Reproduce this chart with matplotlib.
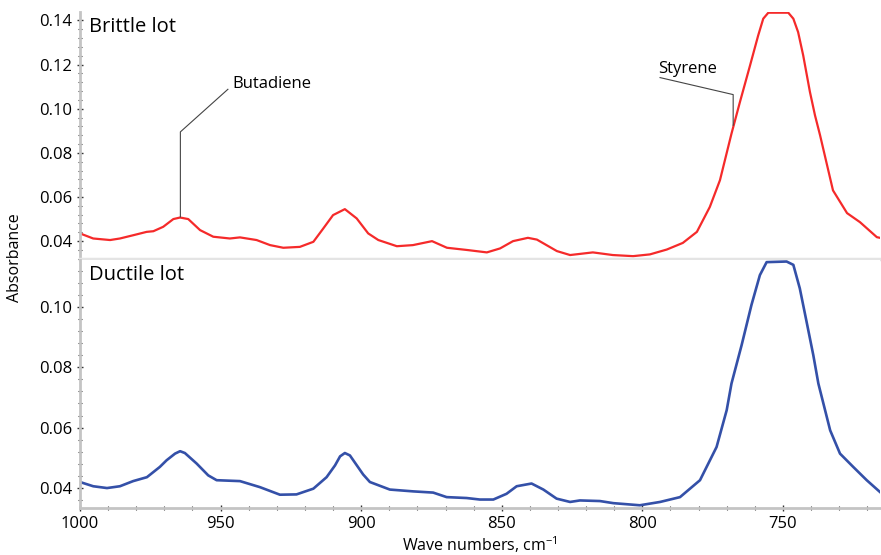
import matplotlib.pyplot as plt
from matplotlib.ticker import MultipleLocator, AutoMinorLocator

plt.rcParams['font.family'] = ['Open Sans', 'DejaVu Sans']
plt.rcParams['mathtext.fontset'] = 'custom'
plt.rcParams['mathtext.rm'] = 'Open Sans'

# brittle lot spectrum (wave number, absorbance)
brittle_wn = [1000, 995.3, 989.3, 985.8, 981, 976.3, 973.9, 970.4, 966.8, 964.4, 961.5, 957.3,
              952.6, 946.7, 943.1, 937.2, 932.4, 927.7, 921.8, 917, 913.5, 910, 905.8,
              901.6, 897.5, 893.9, 887.3, 881.6, 874.8, 869.5, 862.4, 855.3, 850.6, 846,
              840.7, 837.5, 830.4, 825.7, 817.6, 810.5, 803.3, 797.3, 791.3, 785.6, 780.6,
              776, 772.4, 768.3, 765.3, 761.7, 758.8, 757, 755.2, 748.1, 746.3, 744.6,
              742.8, 740.4, 738.6, 736.8, 732.2, 727.2, 722.6, 716.6, 715.5]
brittle_abs = [0.0435, 0.0412, 0.0405, 0.0412, 0.0427, 0.0442, 0.0445, 0.0465, 0.050, 0.0507,
               0.050, 0.045, 0.042, 0.0412, 0.0417, 0.0405, 0.0382, 0.037, 0.0374, 0.0397,
               0.0457, 0.0518, 0.0545, 0.0503, 0.0435, 0.0405, 0.0377, 0.0382, 0.040, 0.037,
               0.036, 0.0349, 0.0367, 0.040, 0.0415, 0.0407, 0.0355, 0.0337, 0.0349, 0.0337,
               0.0332, 0.034, 0.0362, 0.0392, 0.0442, 0.0555, 0.0676, 0.0887, 0.103, 0.1196,
               0.1332, 0.1408, 0.1435, 0.1435, 0.1408, 0.1347, 0.1242, 0.1076, 0.097, 0.088,
               0.063, 0.0527, 0.0486, 0.0418, 0.0415]

# ductile lot spectrum
ductile_wn = [1000, 995.3, 990.4, 985.8, 981.1, 976.2, 971.6, 969.2, 966.2, 964.4, 962.7,
              958.5, 954.4, 951.4, 943.1, 936, 928.9, 923, 917, 912.3, 909.3, 907.5, 905.8,
              904, 899.3, 896.9, 889.8, 881.5, 874.4, 869.6, 862.5, 857.8, 853, 848.3,
              844.7, 839.4, 835.2, 830.5, 825.7, 822.2, 815.1, 810.3, 800.9, 793.7, 786.6,
              779.5, 773.6, 770, 768.3, 764.7, 761.2, 758.2, 755.8, 748.7, 746.3, 744,
              741.6, 739.2, 737.4, 733.2, 729.7, 725, 720.2, 715.5]
ductile_abs = [0.042, 0.0406, 0.040, 0.0406, 0.0423, 0.0436, 0.047, 0.0492, 0.0514, 0.0522,
               0.0516, 0.0481, 0.0442, 0.0426, 0.0423, 0.0403, 0.0378, 0.0379, 0.0398, 0.0436,
               0.0475, 0.0505, 0.0516, 0.0508, 0.0445, 0.042, 0.0395, 0.0389, 0.0385, 0.037,
               0.0367, 0.0362, 0.0362, 0.0381, 0.0406, 0.0415, 0.0395, 0.0365, 0.0354, 0.0359,
               0.0357, 0.035, 0.0343, 0.0354, 0.037, 0.0426, 0.0536, 0.0658, 0.0746, 0.0873,
               0.1006, 0.1105, 0.1148, 0.115, 0.1139, 0.1061, 0.0951, 0.084, 0.0746, 0.0591,
               0.0514, 0.047, 0.0426, 0.0387]

# leader lines for the peak labels
butadiene_x = [947.4, 964.3, 964.3]
butadiene_y = [0.1088, 0.0895, 0.051]
styrene_x = [793.7, 767.7, 767.7]
styrene_y = [0.1141, 0.1064, 0.0925]

fig = plt.figure(figsize=(8.81, 5.55), dpi=100)
ax1 = fig.add_axes([0.0908, 0.5333, 0.908, 0.445])
ax2 = fig.add_axes([0.0908, 0.0847, 0.908, 0.4468], sharex=ax1)

ax1.plot(brittle_wn, brittle_abs, color='#f52a2a', lw=1.6, solid_joinstyle='round')
ax2.plot(ductile_wn, ductile_abs, color='#3450a8', lw=1.9, solid_joinstyle='round')

ax1.plot(butadiene_x, butadiene_y, color='#444444', lw=0.8)
ax1.plot(styrene_x, styrene_y, color='#444444', lw=0.8)
ax1.text(945.9, 0.1092, 'Butadiene', fontsize=12, va='baseline', ha='left')
ax1.text(794.3, 0.1162, 'Styrene', fontsize=12, va='baseline', ha='left')

ax1.text(0.011, 0.919, 'Brittle lot', transform=ax1.transAxes, fontsize=14.5, va='baseline')
ax2.text(0.011, 0.919, 'Ductile lot', transform=ax2.transAxes, fontsize=14.5, va='baseline')

ax1.set_xlim(1000, 715.5)
ax1.set_ylim(0.0319, 0.1438)
ax2.set_ylim(0.0334, 0.1155)

for ax in (ax1, ax2):
    ax.spines['top'].set_visible(False)
    ax.spines['right'].set_visible(False)
    ax.spines['left'].set_color('#c4c4c4')
    ax.spines['left'].set_linewidth(2)
    ax.spines['bottom'].set_color('#c4c4c4')
    ax.spines['bottom'].set_linewidth(2)
    ax.yaxis.set_major_locator(MultipleLocator(0.02))
    ax.yaxis.set_minor_locator(AutoMinorLocator(5))
    ax.tick_params(axis='y', which='major', direction='inout', length=5, width=1,
                   color='#333333', labelsize=12, pad=3)
    ax.tick_params(axis='y', which='minor', direction='inout', length=3, width=0.8,
                   color='#333333')
    ax.yaxis.set_major_formatter(plt.FormatStrFormatter('%.2f'))

ax1.spines['bottom'].set_color('#e4e4e4')
ax1.spines['bottom'].set_linewidth(2.5)
ax1.tick_params(axis='x', which='both', bottom=False, labelbottom=False)

ax2.xaxis.set_major_locator(MultipleLocator(50))
ax2.xaxis.set_minor_locator(MultipleLocator(10))
ax2.tick_params(axis='x', which='major', direction='inout', length=5, width=1,
                color='#333333', labelsize=12, pad=3)
ax2.tick_params(axis='x', which='minor', direction='inout', length=3, width=0.8,
                color='#333333')

ax2.set_xlabel('Wave numbers, cm$^{-1}$', fontsize=11.5, labelpad=2)
fig.text(0.017, 0.535, 'Absorbance', rotation=90, fontsize=11.5, va='center', ha='center')

fig.savefig('out.png', dpi=100)
